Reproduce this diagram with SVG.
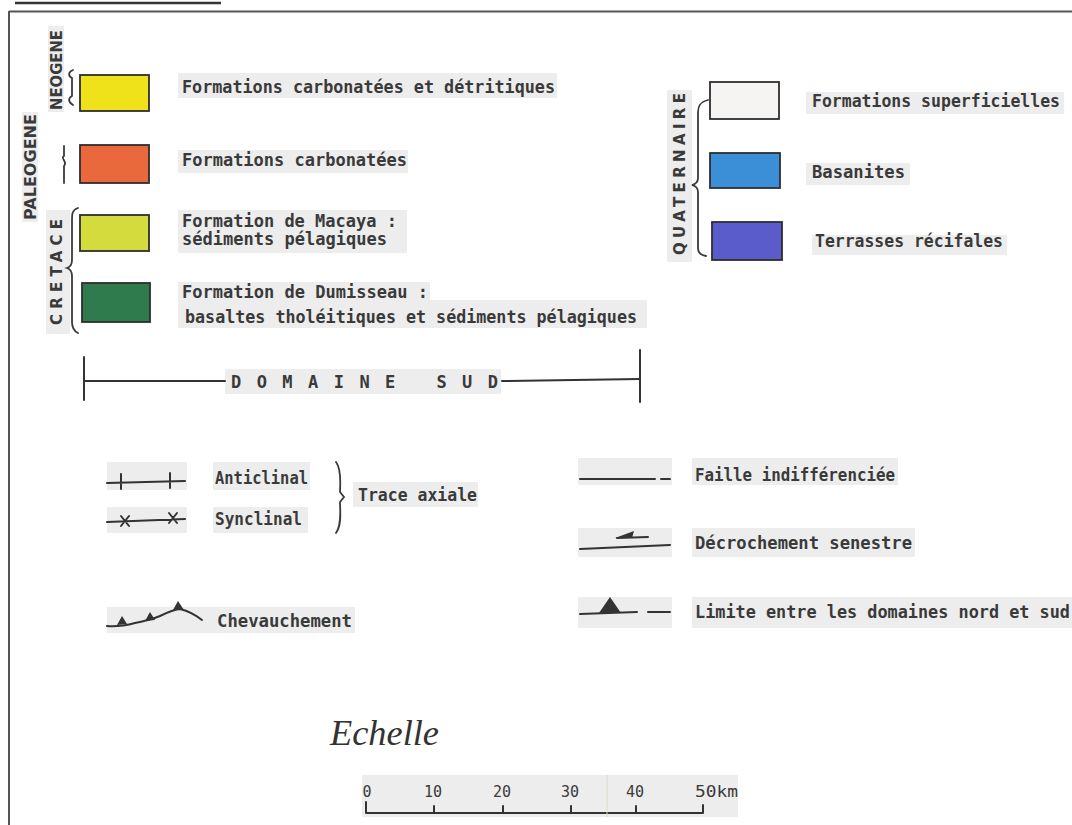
<svg xmlns="http://www.w3.org/2000/svg" width="1072" height="825" viewBox="0 0 1072 825">
<style>
.t{font-family:"DejaVu Sans Mono","Liberation Mono",monospace;font-weight:bold;font-size:17px;fill:#3a3a3a}
.v{font-family:"DejaVu Sans","Liberation Sans",sans-serif;font-weight:bold;font-size:15px;fill:#3a3a3a}
.n{font-family:"DejaVu Sans Mono","Liberation Mono",monospace;font-size:15px;fill:#3a3a3a}
.band{fill:#ededed}
.box{stroke:#2e2e2e;stroke-width:1.8}
.ln{fill:none;stroke:#333;stroke-width:2;stroke-linecap:round;stroke-linejoin:round}
.br{fill:none;stroke:#3a3a3a;stroke-width:1.8;stroke-linecap:round}
</style>
<rect width="1072" height="825" fill="#ffffff"/>
<g id="frame">
<line x1="15" y1="3" x2="221" y2="3" stroke="#333" stroke-width="2.5"/>
<line x1="9" y1="11.5" x2="1072" y2="11.5" stroke="#555" stroke-width="2"/>
<line x1="9" y1="11" x2="9" y2="825" stroke="#555" stroke-width="2"/>
</g>
<g id="bands">
<rect class="band" x="48" y="26" width="16" height="86"/>
<rect class="band" x="22" y="112" width="16" height="110"/>
<rect class="band" x="46" y="210" width="24" height="124"/>
<rect class="band" x="667" y="90" width="25" height="172"/>
<rect class="band" x="178" y="73" width="379" height="25"/>
<rect class="band" x="178" y="150" width="230" height="23"/>
<rect class="band" x="178" y="210" width="229" height="43"/>
<rect class="band" x="178" y="282" width="252" height="20"/>
<rect class="band" x="178" y="300" width="469" height="28"/>
<rect class="band" x="806" y="92" width="258" height="22"/>
<rect class="band" x="806" y="163" width="104" height="22"/>
<rect class="band" x="812" y="235" width="195" height="20"/>
<rect class="band" x="225" y="369" width="276" height="25"/>
<rect class="band" x="107" y="462" width="80" height="28"/>
<rect class="band" x="107" y="507" width="80" height="26"/>
<rect class="band" x="213" y="462" width="97" height="28"/>
<rect class="band" x="213" y="507" width="95" height="26"/>
<rect class="band" x="353" y="482" width="125" height="25"/>
<rect class="band" x="107" y="607" width="248" height="26"/>
<rect class="band" x="578" y="458" width="94" height="27"/>
<rect class="band" x="692" y="458" width="206" height="27"/>
<rect class="band" x="578" y="528" width="94" height="29"/>
<rect class="band" x="692" y="528" width="223" height="29"/>
<rect class="band" x="578" y="597" width="94" height="31"/>
<rect class="band" x="692" y="597" width="380" height="31"/>
<rect class="band" x="362" y="775" width="376" height="42"/>
</g>
<g id="periods">
<text class="v" transform="translate(62,70) rotate(-90)" text-anchor="middle" textLength="80" lengthAdjust="spacingAndGlyphs">NEOGENE</text>
<text class="v" transform="translate(36,167) rotate(-90)" text-anchor="middle" textLength="106" lengthAdjust="spacingAndGlyphs">PALEOGENE</text>
<text class="v" transform="translate(62,272) rotate(-90)" text-anchor="middle" textLength="106" lengthAdjust="spacing">CRETACE</text>
<text class="v" transform="translate(685,174) rotate(-90)" text-anchor="middle" textLength="162" lengthAdjust="spacing">QUATERNAIRE</text>
<path class="br" d="M73,70 C68,72 68,76 72,78 L72,96 C68,98 68,102 73,105"/>
<path class="br" d="M64,146 L64,156 C60,158 68,162 64,166 L64,183"/>
<path class="br" d="M78,208 C72,210 72,214 72,220 L72,260 C72,265 70,267 67,268 C70,269 72,271 72,276 L72,322 C72,328 74,331 78,333"/>
<path class="br" d="M708,100 C700,102 698,106 698,112 L698,178 C698,182 696,184 692,185 C696,186 698,188 698,192 L698,248 C698,252 700,255 706,256"/>
</g>
<g id="neogene">
<rect class="box" x="80" y="75" width="69" height="36" fill="#efe21b"/>
<text class="t" x="182" y="93" textLength="373" lengthAdjust="spacingAndGlyphs">Formations carbonatées et détritiques</text>
</g>
<g id="paleogene">
<rect class="box" x="80" y="145" width="69" height="38" fill="#e9683c"/>
<text class="t" x="182" y="166" textLength="225" lengthAdjust="spacingAndGlyphs">Formations carbonatées</text>
</g>
<g id="macaya">
<rect class="box" x="80" y="215" width="69" height="36" fill="#d3dc3c"/>
<text class="t" x="182" y="227" textLength="215" lengthAdjust="spacingAndGlyphs">Formation de Macaya :</text>
<text class="t" x="182" y="245" textLength="205" lengthAdjust="spacingAndGlyphs">sédiments pélagiques</text>
</g>
<g id="dumisseau">
<rect class="box" x="82" y="283" width="68" height="39" fill="#2f7b4d"/>
<text class="t" x="182" y="298" textLength="246" lengthAdjust="spacingAndGlyphs">Formation de Dumisseau :</text>
<text class="t" x="185" y="323" textLength="452" lengthAdjust="spacingAndGlyphs">basaltes tholéitiques et sédiments pélagiques</text>
</g>
<g id="superficielles">
<rect class="box" x="710" y="82" width="69" height="37" fill="#f6f4f2"/>
<text class="t" x="812" y="107" textLength="248" lengthAdjust="spacingAndGlyphs">Formations superficielles</text>
</g>
<g id="basanites">
<rect class="box" x="710" y="153" width="70" height="35" fill="#3b8fd6"/>
<text class="t" x="812" y="178" textLength="93" lengthAdjust="spacingAndGlyphs">Basanites</text>
</g>
<g id="terrasses">
<rect class="box" x="712" y="222" width="70" height="38" fill="#5a5ccc"/>
<text class="t" x="815" y="247" textLength="188" lengthAdjust="spacingAndGlyphs">Terrasses récifales</text>
</g>
<g id="domaine-sud">
<line class="ln" x1="84" y1="357" x2="84" y2="400"/>
<line class="ln" x1="84" y1="381" x2="225" y2="381" stroke-width="1.6"/>
<text class="t" x="231" y="388" textLength="267" lengthAdjust="spacing">DOMAINE SUD</text>
<line class="ln" x1="502" y1="381" x2="640" y2="379" stroke-width="1.6"/>
<line class="ln" x1="640" y1="350" x2="640" y2="402"/>
</g>
<g id="anticlinal">
<path class="ln" d="M107,483 L185,481 M121,474 L121,489 M170,473 L170,488"/>
<text class="t" x="215" y="484" textLength="93" lengthAdjust="spacingAndGlyphs">Anticlinal</text>
</g>
<g id="synclinal">
<path class="ln" d="M107,522 L185,519 M121,516 L129,526 M121,526 L129,516 M169,513 L177,523 M169,523 L177,513"/>
<text class="t" x="215" y="525" textLength="87" lengthAdjust="spacingAndGlyphs">Synclinal</text>
</g>
<g id="trace-axiale">
<path class="br" d="M336,462 C342,470 340,485 340,492 L344,497 L340,502 C340,510 342,525 336,533" stroke-width="2"/>
<text class="t" x="358" y="501" textLength="119" lengthAdjust="spacingAndGlyphs">Trace axiale</text>
</g>
<g id="chevauchement">
<path class="ln" d="M107,626 Q120,627 135,623 Q150,620 160,616 Q172,610 180,609 Q192,612 202,620" stroke-width="2.5"/>
<polygon points="117,625 122,616 127,624" fill="#333"/>
<polygon points="145,621 150,612 155,620" fill="#333"/>
<polygon points="173,610 178,601 184,610" fill="#333"/>
<text class="t" x="217" y="627" textLength="135" lengthAdjust="spacingAndGlyphs">Chevauchement</text>
</g>
<g id="faille">
<path class="ln" d="M580,479 L655,479 M661,479 L670,479"/>
<text class="t" x="695" y="481" textLength="200" lengthAdjust="spacingAndGlyphs">Faille indifférenciée</text>
</g>
<g id="decrochement">
<path class="ln" d="M580,549 L670,545 M617,538 L648,537"/>
<polygon points="615,538 634,531 632,538" fill="#333"/>
<text class="t" x="695" y="549" textLength="217" lengthAdjust="spacingAndGlyphs">Décrochement senestre</text>
</g>
<g id="limite">
<path class="ln" d="M580,614 L637,612 M648,612 L670,612"/>
<polygon points="599,613 610,597 621,613" fill="#333"/>
<text class="t" x="695" y="618" textLength="375" lengthAdjust="spacingAndGlyphs">Limite entre les domaines nord et sud</text>
</g>
<g id="echelle">
<text x="330" y="745" font-family="'Liberation Serif','DejaVu Serif',serif" font-style="italic" font-size="36" fill="#333" textLength="109" lengthAdjust="spacingAndGlyphs">Echelle</text>
<path class="ln" d="M366,802 L366,813 L703,813 L703,805 M434,806 L434,813 M503,806 L503,813 M571,806 L571,813 M636,806 L636,813" stroke-width="1.8"/>
<line x1="607" y1="775" x2="607" y2="817" stroke="#e0d8cc" stroke-width="1"/>
<text class="n" x="367" y="797" text-anchor="middle">0</text>
<text class="n" x="433" y="797" text-anchor="middle">10</text>
<text class="n" x="502" y="797" text-anchor="middle">20</text>
<text class="n" x="570" y="797" text-anchor="middle">30</text>
<text class="n" x="635" y="797" text-anchor="middle">40</text>
<text class="n" x="695" y="797" textLength="43" lengthAdjust="spacingAndGlyphs">50km</text>
</g>
</svg>
